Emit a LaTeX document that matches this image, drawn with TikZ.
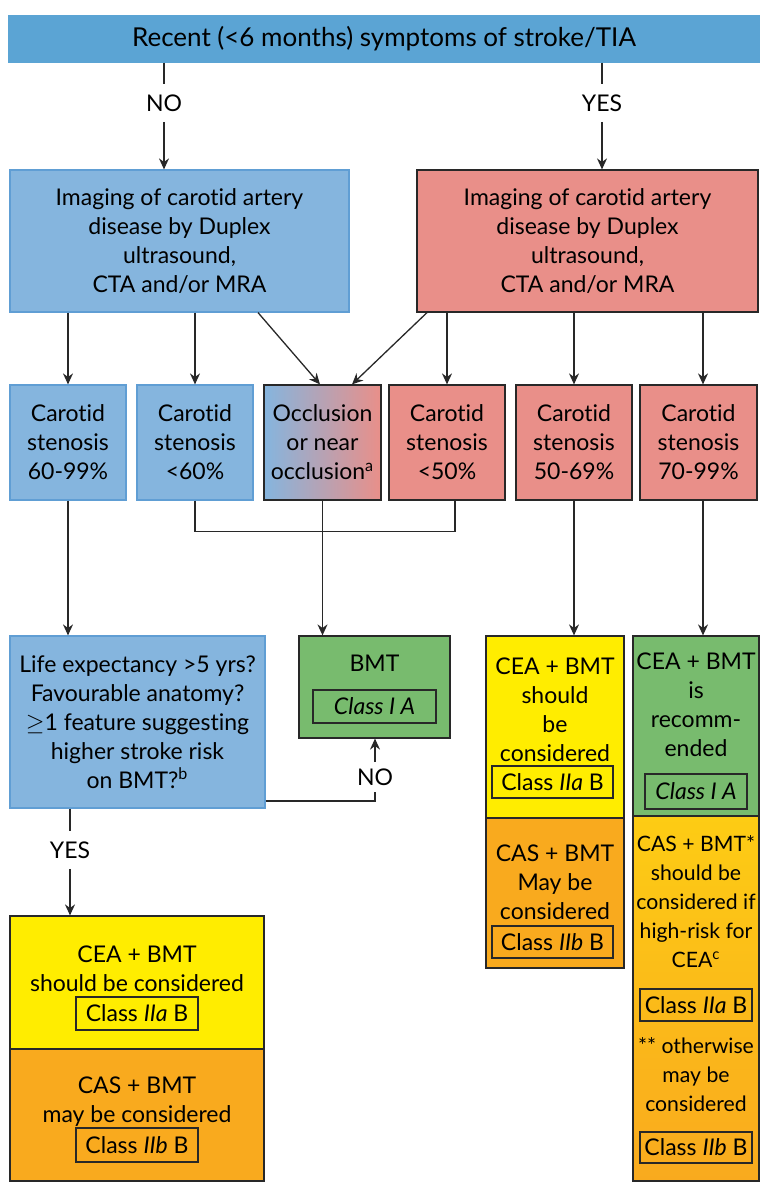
\documentclass[tikz,border=0pt]{standalone}
\usepackage{fontspec}
\setmainfont{Lato}[Ligatures=NoCommon]
\usetikzlibrary{arrows.meta, positioning, calc}
\definecolor{barblue}{RGB}{91,164,212}
\definecolor{boxblue}{RGB}{133,181,222}
\definecolor{edgeblue}{RGB}{96,158,212}
\definecolor{boxred}{RGB}{233,143,137}
\definecolor{boxgreen}{RGB}{120,187,110}
\definecolor{boxyellow}{RGB}{255,237,0}
\definecolor{boxorange}{RGB}{249,170,30}
\definecolor{lightorange}{RGB}{253,204,20}
\definecolor{linegray}{RGB}{40,40,40}
\newcommand{\chartfont}{\fontsize{11.5}{14.5}\selectfont}
\newcommand{\narrowfont}{\fontsize{10.6}{14.5}\selectfont}
\tikzset{
  wh/.style 2 args={minimum width=#1, minimum height=#2},
  box/.style={rectangle, draw=linegray, line width=0.6pt, inner sep=0pt, align=center, font=\chartfont},
  barbox/.style={box, draw=barblue, fill=barblue, font=\fontsize{13}{15}\selectfont},
  bluebox/.style={box, draw=edgeblue, fill=boxblue},
  redbox/.style={box, fill=boxred},
  mixbox/.style={box, left color=boxblue, right color=boxred},
  greenbox/.style={box, fill=boxgreen},
  yellowbox/.style={box, fill=boxyellow},
  orangebox/.style={box, fill=boxorange},
  gradbox/.style={box, top color=lightorange, bottom color=boxorange},
  clsbox/.style={rectangle, draw=linegray, line width=0.6pt, inner sep=0pt, font=\chartfont},
  txt/.style={align=center, font=\chartfont, inner sep=0pt},
  lbl/.style={font=\chartfont, inner sep=5pt},
  arrow/.style={-{Stealth[length=5.5pt, width=5pt]}, line width=0.65pt, draw=linegray},
  conn/.style={line width=0.65pt, draw=linegray},
}

\begin{document}
\begin{tikzpicture}[x=0.5pt, y=-0.5pt]
  \useasboundingbox (0,0) rectangle (768,1198);

  % Top question
  \node[barbox, wh={375pt}{23pt}] (stroke) at (384,39) {Recent (<6 months) symptoms of stroke/TIA};

  % Imaging
  \node[bluebox, wh={169.5pt}{71pt}] (imgL) at (179.5,241) {Imaging of carotid artery\\disease by Duplex\\ultrasound,\\CTA and/or MRA};
  \node[redbox, wh={170.5pt}{71pt}] (imgR) at (587.5,241) {Imaging of carotid artery\\disease by Duplex\\ultrasound,\\CTA and/or MRA};

  % Stenosis grades
  \node[bluebox, wh={58pt}{57.5pt}] (sten1) at (68,442.5) {Carotid\\stenosis\\60-99\%};
  \node[bluebox, wh={58pt}{57.5pt}] (sten2) at (195,442.5) {Carotid\\stenosis\\<60\%};
  \node[mixbox, wh={58.5pt}{57.5pt}] (occl) at (322.5,442.5) {Occlusion\\or near\\occlusion\textsuperscript{a}};
  \node[redbox, wh={58pt}{57.5pt}] (sten3) at (447,442.5) {Carotid\\stenosis\\<50\%};
  \node[redbox, wh={58pt}{57.5pt}] (sten4) at (574,442.5) {Carotid\\stenosis\\50-69\%};
  \node[redbox, wh={58.5pt}{57.5pt}] (sten5) at (698.5,442.5) {Carotid\\stenosis\\70-99\%};

  % Asymptomatic check and BMT
  \node[bluebox, wh={127.5pt}{86pt}] (check) at (137.5,722) {Life expectancy >5 yrs?\\Favourable anatomy?\\$\geq$1 feature suggesting\\higher stroke risk\\on BMT?\textsuperscript{b}};
  \node[greenbox, wh={75.5pt}{51pt}] (bmt) at (374.5,687) {};
  \node[txt] (bmttxt) at (374.5,663) {BMT};
  \node[clsbox, wh={61.5pt}{16.5pt}] (bmtcls) at (374.5,706.5) {\textit{Class I A}};

  % Asymptomatic recommendations
  \node[yellowbox, wh={127pt}{66.5pt}] (ceaL) at (137,982.5) {};
  \node[txt] (ceaLtxt) at (137,969) {CEA + BMT\\should be considered};
  \node[clsbox, wh={61pt}{16.5pt}] (ceaLcls) at (137,1013.5) {Class \textit{IIa} B};
  \node[orangebox, wh={127pt}{66pt}] (casL) at (137,1115) {};
  \node[txt] (casLtxt) at (137,1102) {CAS + BMT\\may be considered};
  \node[clsbox, wh={61pt}{17pt}] (casLcls) at (137,1145) {Class \textit{IIb} B};

  % Symptomatic 50-69%
  \node[yellowbox, wh={69pt}{91pt}] (ceaM) at (555,727) {};
  \node[txt] (ceaMtxt) at (555,710) {CEA + BMT\\should\\be\\considered};
  \node[clsbox, wh={60.5pt}{16pt}] (ceaMcls) at (552.5,782) {Class \textit{IIa} B};
  \node[orangebox, wh={69pt}{75pt}] (casM) at (555,893) {};
  \node[txt] (casMtxt) at (555,882) {CAS + BMT\\May be\\considered};
  \node[clsbox, wh={60.5pt}{16pt}] (casMcls) at (552.5,942) {Class \textit{IIb} B};

  % Symptomatic 70-99%
  \node[greenbox, wh={63pt}{90pt}] (ceaR) at (696,726) {};
  \node[txt] (ceaRtxt) at (696,705) {CEA + BMT\\is\\recomm-\\ended};
  \node[clsbox, wh={51pt}{17.5pt}] (ceaRcls) at (696,791.5) {\textit{Class I A}};
  \node[gradbox, wh={63pt}{182.5pt}] (casR) at (696,998.5) {};
  \node[txt, font=\narrowfont] (casRtxt) at (696,902) {CAS + BMT*\\should be\\considered if\\high-risk for\\CEA\textsuperscript{c}};
  \node[clsbox, wh={56pt}{16pt}] (casRcls) at (696,1005) {Class \textit{IIa} B};
  \node[txt, font=\narrowfont] (elseRtxt) at (696,1075) {** otherwise\\may be\\considered};
  \node[clsbox, wh={56pt}{15.5pt}] (elseRcls) at (696,1147.5) {Class \textit{IIb} B};

  % Labels
  \node[lbl] (noTop) at (164,103) {NO};
  \node[lbl] (yesTop) at (602,103) {YES};
  \node[lbl, inner sep=3pt] (noBmt) at (375,777) {NO};
  \node[lbl] (yesCea) at (70,850) {YES};

  % Arrows
  \draw[conn] (stroke.south -| noTop) -- (noTop.north);
  \draw[arrow] (noTop.south) -- (noTop |- imgL.north);
  \draw[conn] (stroke.south -| yesTop) -- (yesTop.north);
  \draw[arrow] (yesTop.south) -- (yesTop |- imgR.north);

  \draw[arrow] (imgL.south -| sten1) -- (sten1.north);
  \draw[arrow] (imgL.south -| sten2) -- (sten2.north);
  \draw[arrow] ([xshift=39.25pt]imgL.south) -- ([xshift=-1.25pt]occl.north);
  \draw[arrow] ([xshift=-80.25pt]imgR.south) -- ([xshift=14.75pt]occl.north);
  \draw[arrow] (imgR.south -| sten3) -- (sten3.north);
  \draw[arrow] (imgR.south -| sten4) -- (sten4.north);
  \draw[arrow] ($(sten5.north |- imgR.south)+(4.5,0)$) -- ([xshift=2.25pt]sten5.north);

  \draw[arrow] (sten1.south) -- (sten1.south |- check.north);
  \draw[conn] (sten2.south) -- ++(0,31) -| ([xshift=4pt]sten3.south);
  \draw[arrow] (occl.south) -- (occl.south |- bmt.north);
  \draw[arrow] (sten4.south) -- (sten4.south |- ceaM.north);
  \draw[arrow] ([xshift=2.25pt]sten5.south) -- ($(sten5.south |- ceaR.north)+(4.5,0)$);

  \draw[conn] ([yshift=-39.5pt]check.east) -| (noBmt.south);
  \draw[arrow] (noBmt.north) -- (noBmt |- bmt.south);
  \draw[conn] (check.south -| yesCea) -- (yesCea.north);
  \draw[arrow] (yesCea.south) -- (yesCea |- ceaL.north);
\end{tikzpicture}
\end{document}
